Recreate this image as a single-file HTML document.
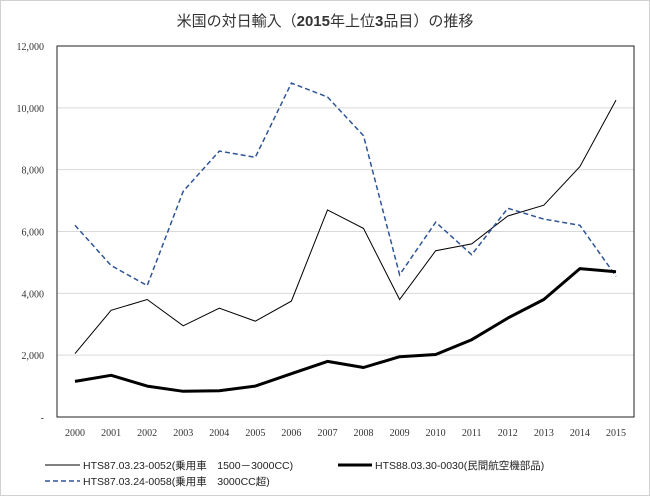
<!DOCTYPE html>
<html><head><meta charset="utf-8"><style>
body{margin:0;background:#fff}
svg{display:block;font-family:"Liberation Serif","Noto Serif CJK SC",serif}
</style></head><body>
<svg id="s" width="650" height="496" viewBox="0 0 650 496" xmlns="http://www.w3.org/2000/svg">
<rect x="0.5" y="0.5" width="649" height="495" fill="#fff" stroke="#d0d0d0"/>
<text x="325" y="26" text-anchor="middle" font-size="15" font-family="Liberation Sans,Noto Sans CJK JP,sans-serif" fill="#333">米国の対日輸入（<tspan font-weight="bold">2015</tspan>年上位<tspan font-weight="bold">3</tspan>品目）の推移</text>
<g id="g"></g>
<g font-size="10.5" fill="#222" font-family="Liberation Sans,Noto Sans CJK JP,sans-serif">
<line x1="45" y1="465" x2="80" y2="465" stroke="#000" stroke-width="1"/>
<text x="83" y="469">HTS87.03.23-0052(乗用車　1500－3000CC)</text>
<line x1="338" y1="465" x2="372" y2="465" stroke="#000" stroke-width="3"/>
<text x="375" y="469">HTS88.03.30-0030(民間航空機部品)</text>
<line x1="45" y1="481" x2="80" y2="481" stroke="#2f5597" stroke-width="1.5" stroke-dasharray="5,3"/>
<text x="83" y="485">HTS87.03.24-0058(乗用車　3000CC超)</text>
</g>
</svg>
<script>
var L=57,R=634,T=46,B=417,n=16,w=(R-L)/n;
function X(i){return L+w*(i+0.5)}
function Y(v){return B-(v/12000)*(B-T)}
var h='';
for(var k=1;k<=6;k++){var y=Y(k*2000);h+='<line x1="'+L+'" y1="'+y+'" x2="'+R+'" y2="'+y+'" stroke="#d9d9d9"/>';}
h+='<rect x="'+L+'" y="'+T+'" width="'+(R-L)+'" height="'+(B-T)+'" fill="none" stroke="#222" stroke-width="1"/>';
var lab=['-','2,000','4,000','6,000','8,000','10,000','12,000'];
for(var k=0;k<=6;k++){h+='<text x="44" y="'+(Y(k*2000)+4)+'" text-anchor="end" font-size="10" fill="#333">'+lab[k]+'</text>';}
for(var i=0;i<n;i++){h+='<text x="'+X(i)+'" y="436" text-anchor="middle" font-size="10" fill="#333">'+(2000+i)+'</text>';}
var a=[2050,3450,3800,2950,3520,3100,3750,6700,6100,3800,5380,5600,6500,6850,8100,10250];
var d=[6200,4900,4250,7300,8600,8400,10800,10350,9100,4600,6300,5250,6750,6400,6200,4550];
var c=[1150,1350,1000,830,850,1000,1400,1800,1600,1950,2020,2500,3200,3800,4800,4700];
function P(arr){return arr.map(function(v,i){return X(i).toFixed(1)+','+Y(v).toFixed(1)}).join(' ')}
h+='<polyline points="'+P(a)+'" fill="none" stroke="#000" stroke-width="1"/>';
h+='<polyline points="'+P(d)+'" fill="none" stroke="#2f5597" stroke-width="1.5" stroke-dasharray="5,3"/>';
h+='<polyline points="'+P(c)+'" fill="none" stroke="#000" stroke-width="3" stroke-linejoin="round"/>';
document.getElementById('g').innerHTML=h;
</script>
</body></html>
